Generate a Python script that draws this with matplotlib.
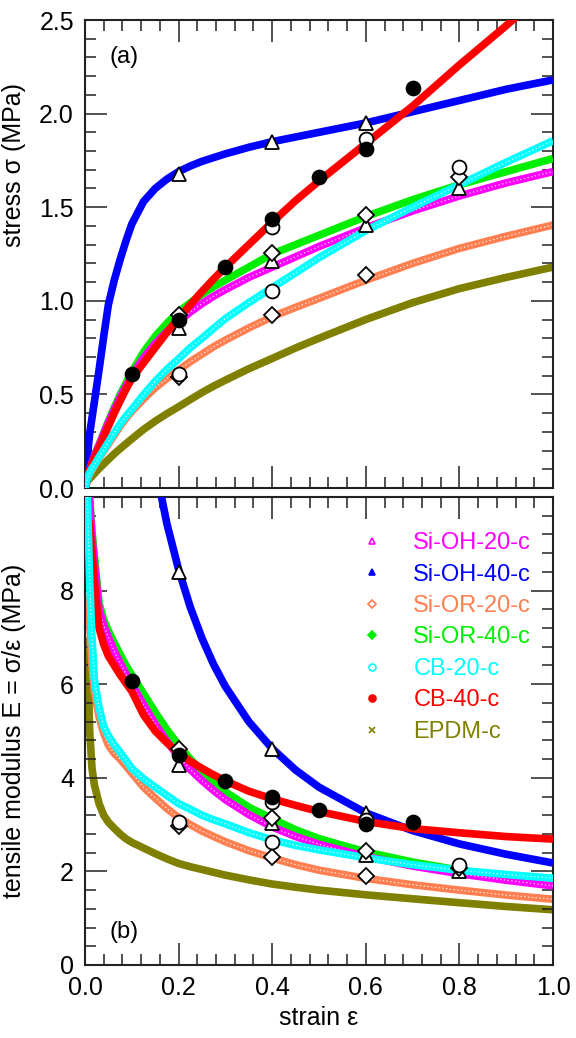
import numpy as np
import matplotlib
matplotlib.use("Agg")
import matplotlib.pyplot as plt
from matplotlib.lines import Line2D
from matplotlib.ticker import MultipleLocator, FormatStrFormatter

plt.rcParams['font.family'] = ['Liberation Sans', 'DejaVu Sans']

# strain grid of the model curves
strain = [0, 0.005, 0.01, 0.015, 0.02, 0.03, 0.04, 0.05, 0.0625, 0.075, 0.0875,
          0.1, 0.125, 0.15, 0.175, 0.2, 0.225, 0.25, 0.275, 0.3, 0.35, 0.4,
          0.45, 0.5, 0.6, 0.7, 0.8, 0.9, 1.0]

# stress (MPa) of the model curves
si_oh_20 = [0, 0.052, 0.099, 0.137, 0.172, 0.228, 0.29, 0.35, 0.419, 0.484, 0.544,
            0.60, 0.695, 0.772, 0.836, 0.89, 0.94, 0.985, 1.025, 1.06, 1.125, 1.18,
            1.235, 1.29, 1.39, 1.48, 1.56, 1.63, 1.69]
si_oh_40 = [0, 0.17, 0.29, 0.375, 0.46, 0.63, 0.81, 0.98, 1.11, 1.22, 1.32,
            1.41, 1.53, 1.60, 1.65, 1.69, 1.72, 1.745, 1.765, 1.785, 1.82, 1.85,
            1.875, 1.90, 1.95, 2.01, 2.07, 2.13, 2.18]
si_or_20 = [0, 0.0395, 0.073, 0.096, 0.117, 0.159, 0.198, 0.235, 0.2825, 0.33, 0.372,
            0.41, 0.475, 0.535, 0.585, 0.63, 0.675, 0.715, 0.755, 0.79, 0.855, 0.915,
            0.965, 1.013, 1.11, 1.20, 1.28, 1.345, 1.405]
si_or_40 = [0, 0.053, 0.10, 0.139, 0.175, 0.232, 0.295, 0.357, 0.43, 0.498, 0.56,
            0.62, 0.725, 0.81, 0.88, 0.94, 0.99, 1.035, 1.075, 1.11, 1.18, 1.25,
            1.30, 1.35, 1.45, 1.54, 1.62, 1.69, 1.76]
cb_20 = [0, 0.05, 0.082, 0.105, 0.122, 0.165, 0.204, 0.245, 0.294, 0.341, 0.383,
         0.42, 0.4975, 0.57, 0.634, 0.69, 0.749, 0.80, 0.853, 0.905, 0.99, 1.07,
         1.15, 1.23, 1.375, 1.50, 1.62, 1.74, 1.855]
cb_40 = [0, 0.048, 0.094, 0.132, 0.164, 0.216, 0.274, 0.33, 0.40, 0.465, 0.527,
         0.585, 0.668, 0.75, 0.831, 0.906, 0.979, 1.05, 1.117, 1.18, 1.30, 1.42,
         1.535, 1.64, 1.84, 2.04, 2.26, 2.47, 2.69]
epdm = [0, 0.035, 0.05, 0.063, 0.077, 0.1035, 0.128, 0.1525, 0.1825, 0.21, 0.236,
        0.262, 0.3125, 0.357, 0.397, 0.434, 0.4725, 0.51, 0.5445, 0.576, 0.637, 0.692,
        0.748, 0.80, 0.90, 0.99, 1.065, 1.125, 1.18]

labels = ['Si-OH-20-c', 'Si-OH-40-c', 'Si-OR-20-c', 'Si-OR-40-c',
          'CB-20-c', 'CB-40-c', 'EPDM-c']
colors = ['#ff00ff', '#0000ff', '#ff7f50', '#00ee00', '#00ffff', '#ff0000', '#808000']
legend_markers = ['^', '^', 'D', 'D', 'o', 'o', 'x']
legend_filled = [False, True, False, True, False, True, True]
hollow_band = [True, False, True, False, True, False, False]
curve_z = [5, 4, 2, 3, 6, 5.5, 1]

# experimental points (strain, stress)
dots_eps = [0.1, 0.2, 0.3, 0.4, 0.5, 0.6, 0.7]
dots_sig = [0.607, 0.897, 1.182, 1.435, 1.66, 1.81, 2.135]
tri_eps = [0.2, 0.4, 0.6, 0.2, 0.4, 0.6, 0.8]
tri_sig = [1.68, 1.85, 1.95, 0.853, 1.21, 1.405, 1.60]
dia_eps = [0.2, 0.4, 0.6, 0.2, 0.4, 0.6, 0.8]
dia_sig = [0.595, 0.924, 1.138, 0.924, 1.254, 1.458, 1.66]
circ_eps = [0.2, 0.4, 0.4, 0.6, 0.8]
circ_sig = [0.61, 1.054, 1.396, 1.863, 1.716]

curves = [si_oh_20, si_oh_40, si_or_20, si_or_40, cb_20, cb_40, epdm]

fig = plt.figure(figsize=(5.76, 10.38), dpi=100)
ax1 = fig.add_axes([85 / 576, 1 - 488 / 1038, 468 / 576, 468 / 1038])
ax2 = fig.add_axes([85 / 576, 1 - 965 / 1038, 468 / 576, 468 / 1038])

x = np.array(strain)


def band(ax, xs, ys, color, z, hollow):
    ax.plot(xs, ys, color=color, lw=5.5, zorder=z, solid_capstyle='butt',
            solid_joinstyle='round')
    if hollow:
        ax.plot(xs, ys, color='white', lw=0.9, ls=(0, (1, 2)), zorder=z, alpha=0.9)


# top: stress, bottom: modulus E = stress / strain
for ys, c, z, h in zip(curves, colors, curve_z, hollow_band):
    ys = np.array(ys)
    band(ax1, x, ys, c, z, h)
    band(ax2, x[1:], ys[1:] / x[1:], c, z, h)

mk = dict(ls='none', mec='black', mew=1.3, zorder=10)
for ax, to_e in [(ax1, False), (ax2, True)]:
    for ex, sg, m, fc, s in [(tri_eps, tri_sig, '^', 'white', 10),
                             (dia_eps, dia_sig, 'D', 'white', 8),
                             (circ_eps, circ_sig, 'o', 'white', 10),
                             (dots_eps, dots_sig, 'o', 'black', 10)]:
        ex = np.array(ex)
        sg = np.array(sg)
        yy = sg / ex if to_e else sg
        ax.plot(ex, yy, marker=m, mfc=fc, ms=s, **mk)

for ax in (ax1, ax2):
    ax.set_xlim(0, 1.0)
    ax.xaxis.set_major_locator(MultipleLocator(0.2))
    ax.xaxis.set_minor_locator(MultipleLocator(0.04))
    ax.tick_params(which='both', direction='in', top=True, right=True,
                   labelsize=18, color='#222222')
    ax.tick_params(which='major', length=16, width=1.1, pad=8)
    ax.tick_params(which='minor', length=8, width=1.1)
    for sp in ax.spines.values():
        sp.set_linewidth(1.5)
        sp.set_color('#222222')

ax1.set_ylim(0, 2.5)
ax1.yaxis.set_major_locator(MultipleLocator(0.5))
ax1.yaxis.set_minor_locator(MultipleLocator(0.1))
ax1.yaxis.set_major_formatter(FormatStrFormatter('%.1f'))
ax1.tick_params(labelbottom=False)
ax1.set_ylabel('stress σ (MPa)', fontsize=18)
ax1.yaxis.set_label_coords(-0.125, 0.69)
ax1.text(0.053, 0.92, '(a)', transform=ax1.transAxes, fontsize=17, va='center')

ax2.set_ylim(0, 10)
ax2.set_yticks([0, 2, 4, 6, 8])
ax2.yaxis.set_minor_locator(MultipleLocator(0.4))
ax2.xaxis.set_major_formatter(FormatStrFormatter('%.1f'))
ax2.set_ylabel('tensile modulus E = σ/ε (MPa)', fontsize=18)
ax2.yaxis.set_label_coords(-0.125, 0.5)
ax2.set_xlabel('strain ε', fontsize=18, labelpad=4)
ax2.text(0.053, 0.07, '(b)', transform=ax2.transAxes, fontsize=17, va='center')

handles = []
for lab, c, m, f in zip(labels, colors, legend_markers, legend_filled):
    handles.append(Line2D([], [], ls='none', marker=m, color=c, mec=c,
                          mfc=c if f else 'white', ms=5 if m != 'D' else 4,
                          mew=1.2, label=lab))
ax2.legend(handles=handles, loc='upper left', bbox_to_anchor=(0.588, 0.925),
           frameon=False, fontsize=17, handlelength=1.0, handletextpad=1.25,
           labelspacing=0.40, borderpad=0, borderaxespad=0,
           labelcolor='markeredgecolor')

fig.savefig('out.png', dpi=100)
